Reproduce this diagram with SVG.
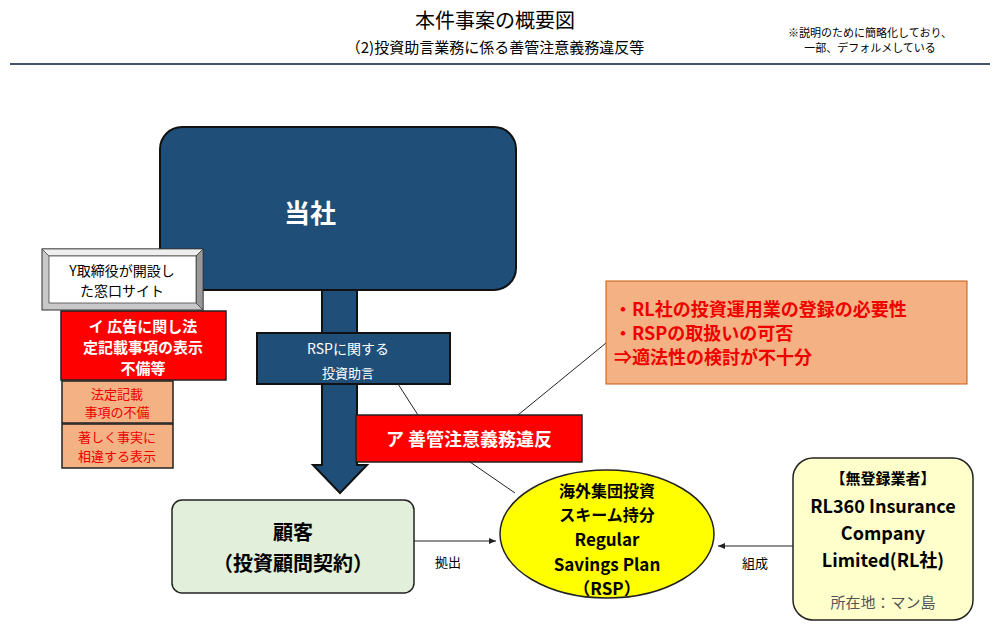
<svg xmlns="http://www.w3.org/2000/svg" width="1000" height="637" viewBox="0 0 1000 637">
<style>
text{font-family:"Noto Sans CJK JP","Noto Sans",sans-serif;text-anchor:middle}
.w{fill:#fff}.r{fill:#e00}.b{font-weight:bold}
.navy{fill:#1f4e79;stroke:#111;stroke-width:2}
.ln{stroke:#222;stroke-width:1;fill:none}
</style>
<defs><marker id="ah" markerWidth="8" markerHeight="8" refX="7" refY="4" orient="auto"><path d="M0,1 L7,4 L0,7 Z" fill="#222"/></marker></defs>
<rect width="1000" height="637" fill="#fff"/>
<text x="495" y="28" font-size="20">本件事案の概要図</text>
<text x="495" y="53" font-size="15">（2)投資助言業務に係る善管注意義務違反等</text>
<text x="870" y="37" font-size="11">※説明のために簡略化しており、</text>
<text x="870" y="52" font-size="11">一部、デフォルメしている</text>
<line x1="10" y1="64" x2="990" y2="64" stroke="#44546a" stroke-width="2"/>
<g id="arrow-main"><path d="M322,290 H357 V465 H367 L340,493 L313,465 H322 Z" class="navy" stroke-width="1"/></g>
<g id="tousha"><rect x="160" y="127" width="356" height="163" rx="22" class="navy"/><text x="310" y="223" font-size="26" class="w b">当社</text></g>
<g id="rsp-advice"><rect x="257" y="333" width="193" height="51" class="navy"/><text x="348" y="354" font-size="14" class="w">RSPに関する</text><text x="348" y="378" font-size="13" class="w">投資助言</text></g>
<g id="site"><rect x="42" y="249" width="161" height="61" fill="#c8c8c8" stroke="#333"/><path d="M42,249 L49,256 H196 L203,249 Z" fill="#eee" stroke="#333" stroke-width="0.7"/><path d="M203,249 L196,256 V303 L203,310 Z" fill="#999" stroke="#333" stroke-width="0.7"/><rect x="49" y="256" width="147" height="47" fill="#fff" stroke="#333" stroke-width="0.7"/><text x="122" y="276" font-size="14">Y取締役が開設し</text><text x="122" y="296" font-size="14">た窓口サイト</text></g>
<g id="i"><rect x="61" y="311" width="165" height="69" fill="#f00" stroke="#222" stroke-width="1.5"/><text x="143" y="332" font-size="15" class="w b">イ  広告に関し法</text><text x="143" y="353" font-size="15" class="w b">定記載事項の表示</text><text x="143" y="374" font-size="15" class="w b">不備等</text></g>
<g id="o1"><rect x="62" y="381" width="111" height="42" fill="#f4b183" stroke="#222" stroke-width="1.5"/><text x="117" y="399" font-size="13" class="r">法定記載</text><text x="117" y="417" font-size="13" class="r">事項の不備</text></g>
<g id="o2"><rect x="62" y="424" width="111" height="44" fill="#f4b183" stroke="#222" stroke-width="1.5"/><text x="117" y="442" font-size="13" class="r">著しく事実に</text><text x="117" y="461" font-size="13" class="r">相違する表示</text></g>
<g id="connectors">
<line x1="398" y1="384" x2="418" y2="415" class="ln"/>
<line x1="518" y1="415" x2="606" y2="343" class="ln" stroke="#7f5f3f"/>
<line x1="470" y1="462" x2="515" y2="493" class="ln"/>
<line x1="414" y1="541" x2="496" y2="541" class="ln" marker-end="url(#ah)"/>
<line x1="793" y1="546" x2="718" y2="546" class="ln" marker-end="url(#ah)"/>
<text x="448" y="567" font-size="13">拠出</text>
<text x="755" y="568" font-size="13">組成</text>
</g>
<g id="a"><rect x="356" y="415" width="226" height="47" fill="#f00" stroke="#222" stroke-width="1.5"/><text x="469" y="446" font-size="18" class="w b">ア  善管注意義務違反</text></g>
<g id="note"><rect x="606" y="281" width="361" height="103" fill="#f4b183" stroke="#c55a11"/><text x="614" y="316" font-size="18" class="r b" style="text-anchor:start">・RL社の投資運用業の登録の必要性</text><text x="614" y="340" font-size="18" class="r b" style="text-anchor:start">・RSPの取扱いの可否</text><text x="614" y="364" font-size="18" class="r b" style="text-anchor:start">⇒適法性の検討が不十分</text></g>
<g id="rsp"><ellipse cx="607" cy="534" rx="107" ry="64" fill="#ff0" stroke="#222" stroke-width="1.5"/><text x="607" y="497" font-size="16" class="b">海外集団投資</text><text x="607" y="521" font-size="16" class="b">スキーム持分</text><text x="607" y="546" font-size="17" class="b">Regular</text><text x="607" y="571" font-size="17" class="b">Savings Plan</text><text x="607" y="595" font-size="17" class="b">（RSP）</text></g>
<g id="kokyaku"><rect x="172" y="500" width="242" height="93" rx="10" fill="#e2efda" stroke="#222" stroke-width="1.5"/><text x="293" y="540" font-size="20" class="b">顧客</text><text x="293" y="571" font-size="20" class="b">（投資顧問契約）</text></g>
<g id="rl"><rect x="793" y="458" width="180" height="162" rx="20" fill="#ffffcc" stroke="#222" stroke-width="1.5"/><text x="883" y="484" font-size="15" class="b">【無登録業者】</text><text x="883" y="513" font-size="18" class="b">RL360 Insurance</text><text x="883" y="540" font-size="18" class="b">Company</text><text x="883" y="567" font-size="18" class="b">Limited(RL社)</text><text x="883" y="608" font-size="15" fill="#555">所在地：マン島</text></g>
</svg>
